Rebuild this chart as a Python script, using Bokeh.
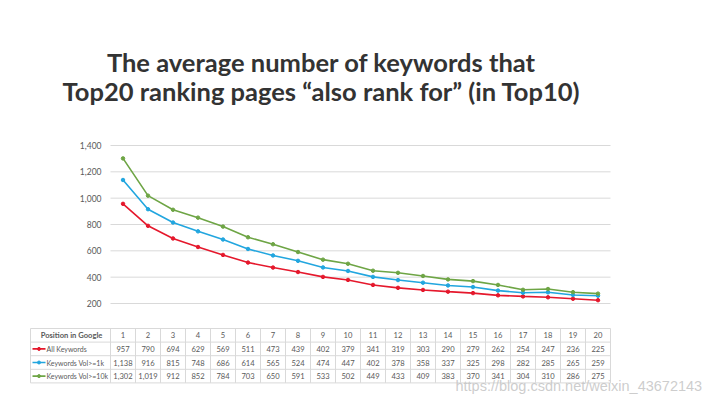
from bokeh.plotting import figure
from bokeh.models import Range1d
from bokeh.core.properties import value
from bokeh.embed import file_html
from bokeh.resources import INLINE

# ---------------- data ----------------
positions = list(range(1, 21))
all_keywords = [957, 790, 694, 629, 569, 511, 473, 439, 402, 379,
                341, 319, 303, 290, 279, 262, 254, 247, 236, 225]
vol_1k = [1138, 916, 815, 748, 686, 614, 565, 524, 474, 447,
          402, 378, 358, 337, 325, 298, 282, 285, 265, 259]
vol_10k = [1302, 1019, 912, 852, 784, 703, 650, 591, 533, 502,
           449, 433, 409, 383, 370, 341, 304, 310, 286, 275]
series_names = ["All Keywords", "Keywords Vol>=1k", "Keywords Vol>=10k"]
series_values = [all_keywords, vol_1k, vol_10k]
series_colors = ["#e5182c", "#22a6df", "#6ea545"]
header_label = "Position in Google"
title_lines = ["The average number of keywords that",
               "Top20 ranking pages \u201calso rank for\u201d (in Top10)"]
y_ticks = [200, 400, 600, 800, 1000, 1200, 1400]
watermark = "https://blog.csdn.net/weixin_43672143"

# ---------------- layout constants (pixels) ----------------
W, H = 714, 404
LEFT, RIGHT = 110, 104             # chart plot area horizontal extent
PX = (W - LEFT - RIGHT) / len(positions)
Y_TOP_PX, Y_BOT_PX = 145, 303      # pixel rows of top / bottom tick
GRAY_TXT = "#595959"
GRID = "#d9d9d9"
FONT = "Lato"


def px_to_x(px):
    return 0.5 + (px - LEFT) / PX


# value range mapped so that the ticks fall on the chart's plot area
k = (Y_BOT_PX - Y_TOP_PX) / (y_ticks[-1] - y_ticks[0])
val_range = Range1d(start=y_ticks[0] - (H - Y_BOT_PX) / k, end=y_ticks[-1] + Y_TOP_PX / k)

p = figure(width=W, height=H, x_range=Range1d(px_to_x(0), px_to_x(W)),
           y_range=Range1d(H, 0), x_axis_location=None, y_axis_location=None,
           min_border=0, output_backend="svg", toolbar_location=None, title=None)
p.extra_y_ranges = {"val": val_range}
p.xgrid.visible = False
p.ygrid.visible = False
p.outline_line_color = None
p.background_fill_color = "white"
p.border_fill_color = "white"

# ---------------- title ----------------
p.text(x=[px_to_x(321)] * 2, y=[61, 90], text=title_lines, text_font=value(FONT),
       text_font_style="bold", text_font_size="25.5px", text_color="#333333",
       text_align="center", text_baseline="alphabetic")

# ---------------- chart ----------------
gx0, gx1 = 0.5, positions[-1] + 0.5
p.segment(x0=[gx0] * len(y_ticks), y0=y_ticks, x1=[gx1] * len(y_ticks), y1=y_ticks,
          line_color=GRID, line_width=1, y_range_name="val")
p.text(x=[px_to_x(101)] * len(y_ticks), y=y_ticks, text=[f"{t:,}" for t in y_ticks],
       text_font=value(FONT), text_font_size="8.5px", text_color=GRAY_TXT,
       text_align="right", text_baseline="middle", y_range_name="val")

for vals, col in zip(series_values, series_colors):
    p.line(positions, vals, line_color=col, line_width=1.6, y_range_name="val")
    p.scatter(positions, vals, size=3.5, fill_color=col, line_color=col, y_range_name="val")

# ---------------- table ----------------
ROW_PX = 13.6
TABLE_TOP = 328
n_rows = 1 + len(series_names)


def row_y(r):
    return TABLE_TOP + (r + 0.5) * ROW_PX


label_left = px_to_x(30)
last_right = positions[-1] + 0.5
hy = [TABLE_TOP + r * ROW_PX for r in range(n_rows + 1)]
p.segment(x0=[label_left] * len(hy), y0=hy, x1=[last_right] * len(hy), y1=hy,
          line_color=GRID, line_width=1)
vx = [label_left] + [q - 0.5 for q in positions] + [last_right]
p.segment(x0=vx, y0=[hy[0]] * len(vx), x1=vx, y1=[hy[-1]] * len(vx),
          line_color=GRID, line_width=1)

p.text(x=[px_to_x(71)], y=[row_y(0)], text=[header_label], text_font=value(FONT),
       text_font_style="bold", text_font_size="7.6px", text_color=GRAY_TXT,
       text_align="center", text_baseline="middle")
p.text(x=positions, y=[row_y(0)] * len(positions), text=[str(q) for q in positions],
       text_font=value(FONT), text_font_size="7.6px", text_color=GRAY_TXT,
       text_align="center", text_baseline="middle")

for i, (name, vals, col) in enumerate(zip(series_names, series_values, series_colors)):
    yy = row_y(i + 1)
    p.segment(x0=[px_to_x(32)], y0=[yy], x1=[px_to_x(45)], y1=[yy], line_color=col, line_width=1.6)
    p.scatter(x=[px_to_x(38.5)], y=[yy], size=3, fill_color=col, line_color=col)
    p.text(x=[px_to_x(46)], y=[yy], text=[name], text_font=value(FONT),
           text_font_size="7px", text_color=GRAY_TXT,
           text_align="left", text_baseline="middle")
    p.text(x=positions, y=[yy] * len(positions), text=[f"{v:,}" for v in vals],
           text_font=value(FONT), text_font_size="7.6px", text_color=GRAY_TXT,
           text_align="center", text_baseline="middle")

# watermark
p.text(x=[px_to_x(455)], y=[385], text=[watermark], text_font=value("Liberation Sans"),
       text_font_size="14.5px", text_color="#c4c4c4", text_alpha=0.85,
       text_align="left", text_baseline="middle")

open("out.html", "w").write(file_html(p, INLINE))
